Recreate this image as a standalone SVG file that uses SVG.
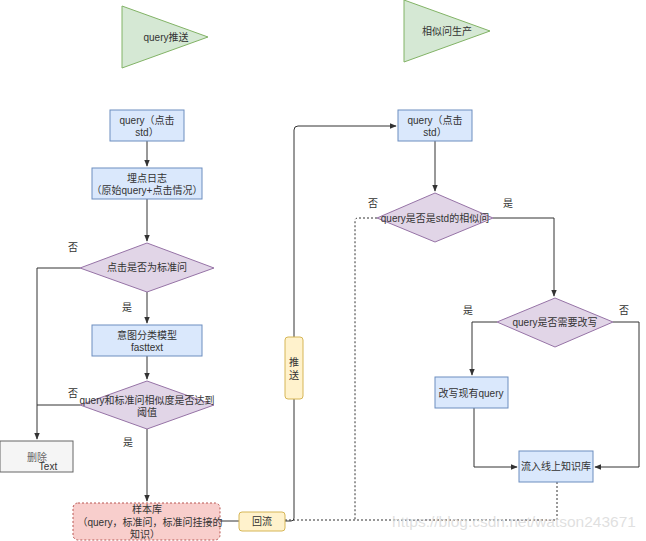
<svg xmlns="http://www.w3.org/2000/svg" width="646" height="541" viewBox="0 0 646 541">
<defs>
<marker id="ah" viewBox="0 0 10 10" refX="9" refY="5" markerWidth="7" markerHeight="7" orient="auto" markerUnits="userSpaceOnUse">
<path d="M0,1 L10,5 L0,9 Z" fill="#333"/>
</marker>
<style>
text{font-family:"Liberation Sans","Noto Sans CJK SC",sans-serif;font-size:10px;fill:#333;text-anchor:middle;dominant-baseline:central}
.blue{fill:#dae8fc;stroke:#6c8ebf;stroke-width:1}
.dia{fill:#e1d5e7;stroke:#9673a6;stroke-width:1}
.tri{fill:#d5e8d4;stroke:#82b366;stroke-width:1}
.yel{fill:#fff2cc;stroke:#d6b656;stroke-width:1}
.line{fill:none;stroke:#333;stroke-width:1}
.dash{fill:none;stroke:#333;stroke-width:1;stroke-dasharray:2 2}
</style>
</defs>
<rect width="646" height="541" fill="#fff"/>

<g id="connectors">
<path class="line" d="M147,141 V166" marker-end="url(#ah)"/>
<path class="line" d="M147,199 V241" marker-end="url(#ah)"/>
<path class="line" d="M80,268 H37 V439" marker-end="url(#ah)"/>
<path class="line" d="M147,292 V323" marker-end="url(#ah)"/>
<path class="line" d="M147,356 V379" marker-end="url(#ah)"/>
<path class="line" d="M80,405 H37"/>
<path class="line" d="M147,429 V501" marker-end="url(#ah)"/>
<path class="line" d="M220,521 H239"/>
<path class="line" d="M285,521 H291 Q294,521 294,518 V130 Q294,126 298,126 H396" marker-end="url(#ah)"/>
<path class="line" d="M435,141 V191" marker-end="url(#ah)"/>
<path class="line" d="M493,218 H554 V296" marker-end="url(#ah)"/>
<path class="line" d="M497,322 H472 V375" marker-end="url(#ah)"/>
<path class="line" d="M474,408 V467 H517" marker-end="url(#ah)"/>
<path class="line" d="M613,322 H639 V467 H595" marker-end="url(#ah)"/>
<path class="dash" d="M285,520 H557 V482"/>
<path class="dash" d="M377,218 H358 Q355,218 355,221 V520"/>
</g>

<g id="n-push-title">
<polygon class="tri" points="122,6 208,37 122,68"/>
<text x="166" y="37">query推送</text>
</g>
<g id="n-sim-title">
<polygon class="tri" points="404,0 490,31 404,62"/>
<text x="447" y="31">相似问生产</text>
</g>

<g id="n-query1">
<rect class="blue" x="110" y="110" width="74" height="31"/>
<text x="147" y="120">query（点击</text>
<text x="147" y="132">std）</text>
</g>
<g id="n-log">
<rect class="blue" x="92" y="168" width="110" height="31"/>
<text x="147" y="178">埋点日志</text>
<text x="147" y="190">（原始query+点击情况）</text>
</g>
<g id="n-d1">
<polygon class="dia" points="147,243 214,268 147,292 80,268"/>
<text x="147" y="267">点击是否为标准问</text>
</g>
<g id="n-model">
<rect class="blue" x="92" y="325" width="110" height="31"/>
<text x="147" y="335">意图分类模型</text>
<text x="147" y="347">fasttext</text>
</g>
<g id="n-d2">
<polygon class="dia" points="147,381 214,405 147,429 80,405"/>
<text x="147" y="400">query和标准问相似度是否达到</text>
<text x="147" y="412">阈值</text>
</g>
<g id="n-del">
<rect x="0" y="441" width="73" height="31" fill="#f5f5f5" stroke="#666" stroke-width="1"/>
<text x="37" y="457" style="fill:#666">删除</text>
<text x="48" y="466">Text</text>
</g>
<g id="n-sample">
<rect x="73" y="503" width="147" height="37" rx="5" fill="#f8cecc" stroke="#b85450" stroke-width="1" stroke-dasharray="2 2"/>
<text x="147" y="509">样本库</text>
<text x="150" y="522">（query，标准问，标准问挂接的</text>
<text x="145" y="534">知识）</text>
</g>
<g id="n-back">
<rect class="yel" x="239" y="512" width="46" height="19" rx="3"/>
<text x="262" y="521">回流</text>
</g>
<g id="n-push">
<rect class="yel" x="285" y="337" width="18" height="62" rx="3"/>
<text x="294" y="362">推</text>
<text x="294" y="375">送</text>
</g>

<g id="n-query2">
<rect class="blue" x="398" y="110" width="74" height="31"/>
<text x="435" y="120">query（点击</text>
<text x="435" y="132">std）</text>
</g>
<g id="n-d3">
<polygon class="dia" points="435,193 493,218 435,242 377,218"/>
<text x="435" y="218">query是否是std的相似问</text>
</g>
<g id="n-d4">
<polygon class="dia" points="555,298 613,322 555,347 497,322"/>
<text x="555" y="322">query是否需要改写</text>
</g>
<g id="n-rewrite">
<rect class="blue" x="435" y="377" width="73" height="31"/>
<text x="471" y="393">改写现有query</text>
</g>
<g id="n-kb">
<rect class="blue" x="519" y="451" width="74" height="31"/>
<text x="556" y="466">流入线上知识库</text>
</g>

<g id="labels">
<text x="73" y="247">否</text>
<text x="127" y="307">是</text>
<text x="73" y="393">否</text>
<text x="128" y="442">是</text>
<text x="373" y="203">否</text>
<text x="508" y="203">是</text>
<text x="468" y="310">是</text>
<text x="624" y="310">否</text>
</g>
<text x="514" y="521" style="font-size:15.5px;fill:#d8d8d8;fill-opacity:0.8">https://blog.csdn.net/watson243671</text>
</svg>
